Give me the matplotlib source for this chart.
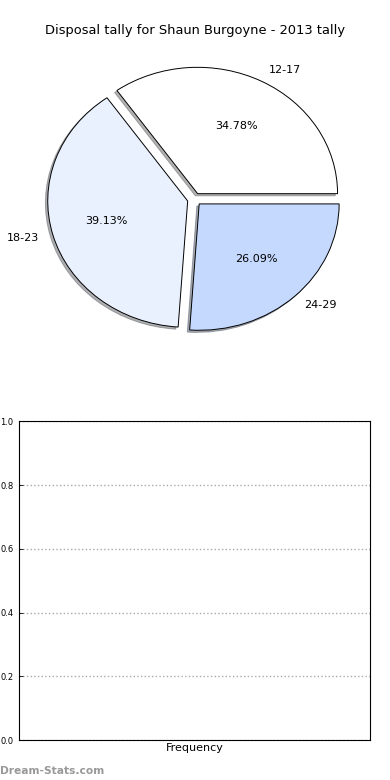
import matplotlib
matplotlib.use("Agg")
import matplotlib.pyplot as plt

title = "Disposal tally for Shaun Burgoyne - 2013 tally"
categories = ["12-17", "18-23", "24-29"]
counts = [8, 9, 6]
colors = ["#ffffff", "#eaf1fe", "#c5d9fe"]
explode = [0.05, 0.05, 0.05]
yticks = [0.0, 0.2, 0.4, 0.6, 0.8, 1.0]

fig = plt.figure(figsize=(3.9, 7.8), dpi=100)

ax = fig.add_axes([0.05, 0.542, 0.897, 0.405])
wedges, texts, autotexts = ax.pie(
    counts, labels=categories, colors=colors, explode=explode,
    autopct="%1.2f%%", startangle=0,
    shadow=dict(ox=-0.012, oy=-0.012, shade=0.6),
    wedgeprops=dict(edgecolor="black", linewidth=0.7),
    textprops=dict(fontsize=8),
)
ax.set_aspect("auto")
ax.set_xlim(-1.25, 1.25)
ax.set_ylim(-1.25, 1.25)
ax.axis("off")
fig.text(0.5, 0.961, title, ha="center", va="center", fontsize=9.4)

ax2 = fig.add_axes([0.049, 0.051, 0.9, 0.409])
ax2.set_ylim(0, 1)
ax2.set_yticks(yticks)
ax2.set_yticklabels([f"{v:.1f}" for v in yticks], fontsize=6)
ax2.set_xticks([])
ax2.yaxis.grid(True, linestyle=":", color="#aaaaaa", linewidth=1)
ax2.tick_params(axis="y", direction="in", length=3, width=0.6, pad=4)
ax2.set_xlabel("Frequency", fontsize=8, labelpad=2)
for s in ax2.spines.values():
    s.set_linewidth(0.8)

fig.text(0.0, 0.012, "Dream-Stats.com", ha="left", va="center",
         fontsize=7.7, color="#999999", fontweight="bold")

fig.savefig("out.png", dpi=100)
